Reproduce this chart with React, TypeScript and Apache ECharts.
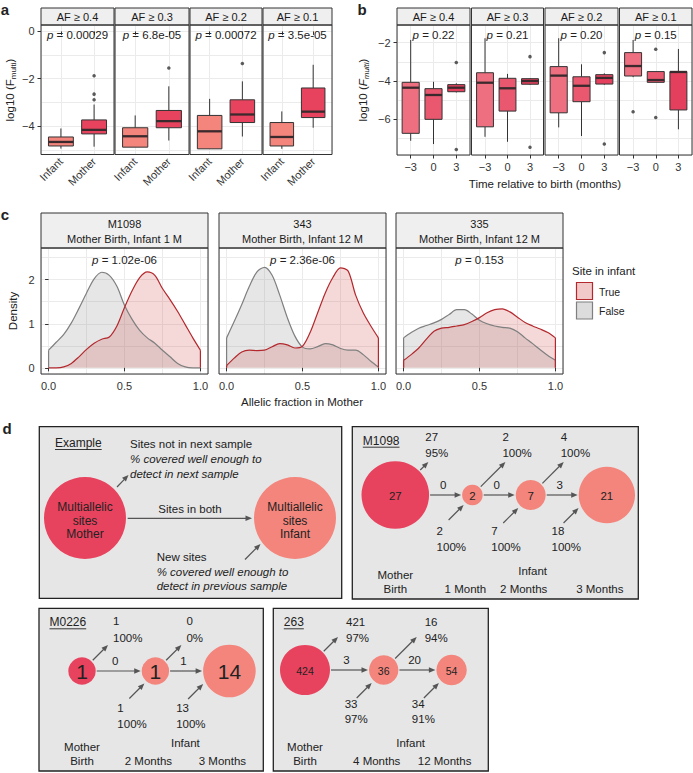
import React, { useEffect, useRef } from 'react';
import * as echarts from 'echarts';

const FONT = '"Liberation Sans", Arial, Helvetica, sans-serif';
const INK = '#222222';
const MOTHER = '#E8435E';
const INFANT = '#F3857C';
const GRIDLINE = '#ebebeb';

// ================= panel a =================
const afFacets = ['AF ≥ 0.4', 'AF ≥ 0.3', 'AF ≥ 0.2', 'AF ≥ 0.1'];
const aGroups = ['Infant', 'Mother'];
const aPValues = ['0.00029', '6.8e-05', '0.00072', '3.5e-05'];
// [min, Q1, median, Q3, max]
const aInfantBox = [
  [-4.95, -4.84, -4.67, -4.46, -4.1],
  [-4.89, -4.89, -4.43, -4.07, -3.55],
  [-4.96, -4.96, -4.22, -3.55, -2.85],
  [-4.96, -4.84, -4.46, -3.85, -3.38],
];
const aMotherBox = [
  [-4.87, -4.33, -4.16, -3.74, -3.09],
  [-4.61, -4.07, -3.79, -3.34, -2.32],
  [-4.44, -3.85, -3.51, -2.89, -2.11],
  [-4.07, -3.64, -3.39, -2.39, -1.41],
];
const aMotherOutliers = [[-1.87, -2.65, -2.89], [-1.55], [-1.36], []];
const aTicks = [-4, -2, 0];

// ================= panel b =================
const bTimes = ['−3', '0', '3'];
const bPValues = ['0.22', '0.21', '0.20', '0.15'];
const bBoxMinus3 = [
  [-7.12, -6.73, -4.35, -4.07, -1.86],
  [-6.91, -6.39, -4.09, -3.57, -1.77],
  [-6.42, -5.66, -3.72, -3.25, -1.77],
  [-3.8, -3.74, -3.22, -2.52, -1.86],
];
const bBox0 = [
  [-7.29, -6.0, -4.73, -4.4, -4.04],
  [-7.17, -5.57, -4.38, -3.86, -3.63],
  [-6.87, -5.08, -4.25, -3.78, -3.13],
  [-4.07, -4.07, -3.95, -3.51, -3.51],
];
const bBox3 = [
  [-4.6, -4.56, -4.35, -4.19, -4.12],
  [-4.2, -4.17, -4.0, -3.88, -3.85],
  [-4.2, -4.16, -3.84, -3.67, -3.6],
  [-6.52, -5.51, -3.53, -3.51, -2.33],
];
const bOutMinus3 = [[], [], [], [-5.6]];
const bOut0 = [[], [], [], [-2.34, -5.9]];
const bOut3 = [[-3.04, -7.57], [-2.73, -7.46], [-2.52, -7.29], []];
const bTicks = [-6, -4, -2];

// ================= panel c =================
const cFacetIds = ['M1098', '343', '335'];
const cFacetSub = ['Mother Birth, Infant 1 M', 'Mother Birth, Infant 12 M', 'Mother Birth, Infant 12 M'];
const cPValues = ['1.02e-06', '2.36e-06', '0.153'];
const cAF = [0, 0.05, 0.1, 0.15, 0.2, 0.25, 0.3, 0.35, 0.4, 0.45, 0.5, 0.55, 0.6, 0.65, 0.7, 0.75, 0.8, 0.85, 0.9, 0.95, 1.0];
const cTrue = [
  [0.0, 0.0, 0.02, 0.1, 0.25, 0.42, 0.56, 0.65, 0.7, 0.95, 1.37, 1.75, 2.05, 2.18, 2.1, 1.8, 1.55, 1.28, 0.98, 0.68, 0.4],
  [0.05, 0.22, 0.36, 0.4, 0.39, 0.4, 0.48, 0.55, 0.52, 0.45, 0.49, 0.8, 1.25, 1.7, 2.05, 2.27, 2.2, 1.65, 1.25, 0.95, 0.68],
  [0.17, 0.3, 0.45, 0.65, 0.83, 0.9, 0.92, 0.95, 0.98, 1.05, 1.14, 1.25, 1.32, 1.34, 1.27, 1.15, 1.03, 0.95, 0.88, 0.8, 0.68],
];
const cFalse = [
  [0.4, 0.58, 0.76, 1.02, 1.35, 1.7, 2.02, 2.17, 2.1, 1.85, 1.42, 1.1, 0.85, 0.68, 0.56, 0.4, 0.25, 0.1, 0.02, 0.0, 0.0],
  [0.68, 1.05, 1.44, 1.85, 2.18, 2.28, 2.1, 1.65, 1.14, 0.72, 0.47, 0.43, 0.48, 0.55, 0.52, 0.44, 0.4, 0.4, 0.3, 0.15, 0.02],
  [0.68, 0.8, 0.9, 0.96, 1.02, 1.1, 1.21, 1.32, 1.32, 1.22, 1.08, 1.0, 0.95, 0.92, 0.9, 0.82, 0.68, 0.55, 0.41, 0.28, 0.17],
];
const cXTicks = [0, 0.5, 1];
const cYTicks = [0, 1, 2];
const legendTitle = 'Site in infant';
const legendLabels = ['True', 'False'];

// ================= panel d =================
const m1098Counts = [27, 2, 7, 21];
const m1098Shared = [0, 0, 3];
const m1098Lost = [27, 2, 4];
const m1098LostPct = [95, 100, 100];
const m1098New = [2, 7, 18];
const m1098NewPct = [100, 100, 100];
const m1098Stages = ['Birth', '1 Month', '2 Months', '3 Months'];

const m0226Counts = [1, 1, 14];
const m0226Shared = [0, 1];
const m0226Lost = [1, 0];
const m0226LostPct = [100, 0];
const m0226New = [1, 13];
const m0226NewPct = [100, 100];
const m0226Stages = ['Birth', '2 Months', '3 Months'];

const s263Counts = [424, 36, 54];
const s263Shared = [3, 20];
const s263Lost = [421, 16];
const s263LostPct = [97, 94];
const s263New = [33, 34];
const s263NewPct = [97, 91];
const s263Stages = ['Birth', '4 Months', '12 Months'];

// ================= layout =================
const aPanels = [[41, 114], [115, 189], [190, 262], [263, 332]];
const bPanels = [[397, 470], [471.5, 543.5], [545, 618], [619.5, 692]];
const cPanels = [[41, 208], [219, 386], [396, 563]];
const AB_STRIP = 8, AB_TOP = 25, AB_BOTTOM = 154.5;
const C_STRIP = 213, C_TOP = 248, C_BOTTOM = 374;

function textWidth(t: string, size: number) {
  const ctx = document.createElement('canvas').getContext('2d') as CanvasRenderingContext2D;
  ctx.font = `${size}px ${FONT}`;
  return ctx.measureText(t).width;
}

function gText(x: number, y: number, text: string, o: any = {}) {
  return {
    type: 'text', x, y, z: o.z ?? 50, silent: true, rotation: o.rotation || 0,
    style: {
      text, fill: o.color || INK, fontSize: o.size || 11.5, fontFamily: FONT,
      fontStyle: o.italic ? 'italic' : 'normal', fontWeight: o.bold ? 'bold' : 'normal',
      align: o.align || 'center', verticalAlign: o.valign || 'middle', rich: o.rich,
    },
  };
}

function arrowEls(x1: number, y1: number, x2: number, y2: number, z = 60) {
  const color = '#555';
  const ang = Math.atan2(y2 - y1, x2 - x1);
  const L = 6.5, Wd = 2.7;
  const bx = x2 - L * Math.cos(ang), by = y2 - L * Math.sin(ang);
  const px = -Math.sin(ang) * Wd, py = Math.cos(ang) * Wd;
  return [
    { type: 'line', z, silent: true, shape: { x1, y1, x2: bx + 0.5 * Math.cos(ang), y2: by + 0.5 * Math.sin(ang) }, style: { stroke: color, lineWidth: 1.2 } },
    { type: 'polygon', z, silent: true, shape: { points: [[x2, y2], [bx + px, by + py], [bx - px, by - py]] }, style: { fill: color } },
  ];
}

const pRich = (size: number) => ({ i: { fontStyle: 'italic', fontSize: size, fontFamily: FONT, fill: INK } });

function boxRender(colors: string[]) {
  return (params: any, api: any) => {
    const x = api.value(0);
    const pLo = api.coord([x, api.value(1)]);
    const pQ1 = api.coord([x, api.value(2)]);
    const pMed = api.coord([x, api.value(3)]);
    const pQ3 = api.coord([x, api.value(4)]);
    const pHi = api.coord([x, api.value(5)]);
    const bw = api.size([1, 0])[0] * 0.75;
    const cx = pLo[0];
    return {
      type: 'group',
      children: [
        { type: 'line', shape: { x1: cx, y1: pHi[1], x2: cx, y2: pQ3[1] }, style: { stroke: '#333', lineWidth: 1 } },
        { type: 'line', shape: { x1: cx, y1: pQ1[1], x2: cx, y2: pLo[1] }, style: { stroke: '#333', lineWidth: 1 } },
        { type: 'rect', shape: { x: cx - bw / 2, y: pQ3[1], width: bw, height: Math.max(pQ1[1] - pQ3[1], 0.5) }, style: { fill: colors[params.dataIndex], stroke: '#333', lineWidth: 1 } },
        { type: 'line', shape: { x1: cx - bw / 2, y1: pMed[1], x2: cx + bw / 2, y2: pMed[1] }, style: { stroke: '#3a2a2d', lineWidth: 2.3 } },
      ],
    };
  };
}

function diagramLayout(d: any) {
  const cmin = Math.min(...d.counts), cmax = Math.max(...d.counts);
  const r = d.counts.map((c: number) => (cmax === cmin ? d.rRange[0] : d.rRange[0] + (d.rRange[1] - d.rRange[0]) * (c - cmin) / (cmax - cmin)));
  const cx = [d.x0];
  for (let i = 1; i < r.length; i++) cx.push(cx[i - 1] + r[i - 1] + d.gaps[i - 1] + r[i]);
  return { r, cx };
}

function buildOption() {
  const grid: any[] = [], xAxis: any[] = [], yAxis: any[] = [], series: any[] = [], els: any[] = [];
  const axisLabelBase = { color: '#333', fontSize: 11, fontFamily: FONT };
  const fmtMinus = (v: number) => (v < 0 ? '−' + String(Math.abs(v)) : String(v));
  const near = (arr: number[], v: number) => arr.some((t) => Math.abs(t - v) < 1e-6);

  function addPanel(x0: number, x1: number, top: number, bottom: number, xs: any, ys: any) {
    const gi = grid.length;
    grid.push({ left: x0, top, width: x1 - x0, height: bottom - top, containLabel: false, outerBoundsMode: 'none' });
    xAxis.push({
      type: 'value', gridIndex: gi, position: 'bottom', min: xs.min, max: xs.max,
      axisLine: { show: false }, splitLine: { show: false },
      axisTick: { show: true, customValues: xs.ticks, length: 3.5, lineStyle: { color: '#333', width: 1 } },
      axisLabel: { show: true, customValues: xs.ticks, formatter: xs.fmt, margin: xs.margin, rotate: xs.rotate || 0, ...axisLabelBase },
    });
    xAxis.push({
      type: 'value', gridIndex: gi, position: 'top', min: xs.min, max: xs.max, minInterval: xs.step, maxInterval: xs.step,
      axisLine: { show: false }, axisTick: { show: false }, axisLabel: { show: false },
      splitLine: { show: true, lineStyle: { color: GRIDLINE, width: 1 } },
    });
    yAxis.push({
      type: 'value', gridIndex: gi, position: 'left', min: ys.min, max: ys.max,
      axisLine: { show: false }, splitLine: { show: false },
      axisTick: { show: ys.show, customValues: ys.ticks, length: 3.5, lineStyle: { color: '#333', width: 1 } },
      axisLabel: { show: ys.show, customValues: ys.ticks, formatter: ys.fmt, margin: 6.5, ...axisLabelBase },
    });
    yAxis.push({
      type: 'value', gridIndex: gi, position: 'right', min: ys.min, max: ys.max, minInterval: ys.step, maxInterval: ys.step,
      axisLine: { show: false }, axisTick: { show: false }, axisLabel: { show: false },
      splitLine: { show: true, lineStyle: { color: GRIDLINE, width: 1 } },
    });
    els.push({ type: 'rect', z: 90, silent: true, shape: { x: x0, y: top, width: x1 - x0, height: bottom - top }, style: { fill: 'none', stroke: '#333', lineWidth: 1 } });
    return { xAxisIndex: 2 * gi, yAxisIndex: 2 * gi };
  }

  function strip(x0: number, x1: number, y0: number, y1: number, lines: string[]) {
    els.push({ type: 'rect', z: 40, silent: true, shape: { x: x0, y: y0, width: x1 - x0, height: y1 - y0 }, style: { fill: '#efefef', stroke: '#333', lineWidth: 1 } });
    const mid = (y0 + y1) / 2;
    const lh = 15;
    lines.forEach((t, k) => els.push(gText((x0 + x1) / 2, mid + (k - (lines.length - 1) / 2) * lh + 0.5, t, { size: 11, color: '#1a1a1a' })));
  }

  // ---------- a ----------
  aPanels.forEach(([x0, x1], g) => {
    const ax = addPanel(x0, x1, AB_TOP, AB_BOTTOM,
      { min: 0.4, max: 2.6, step: 1, ticks: [1, 2], margin: 5, rotate: 45, fmt: (v: number) => { const i = Math.round(v); return Math.abs(v - i) < 1e-6 && aGroups[i - 1] ? aGroups[i - 1] : ''; } },
      { min: -5.2, max: 0.27, step: 1, ticks: aTicks, show: g === 0, fmt: (v: number) => (near(aTicks, v) ? fmtMinus(v) : '') });
    series.push({
      type: 'custom', ...ax, silent: true, z: 3, renderItem: boxRender([INFANT, MOTHER]),
      encode: { x: 0, y: [1, 2, 3, 4, 5] },
      data: [[1, ...aInfantBox[g]], [2, ...aMotherBox[g]]],
    });
    series.push({ type: 'scatter', ...ax, silent: true, z: 4, symbolSize: 3.5, itemStyle: { color: '#333' }, data: aMotherOutliers[g].map((v) => [2, v]) });
    strip(x0, x1, AB_STRIP, AB_TOP, [afFacets[g]]);
    els.push(gText((x0 + x1) / 2, 35, '{i|p} = ' + aPValues[g], { rich: pRich(11.5) }));
  });

  // ---------- b ----------
  const bColors = ['#EE6F80', '#EA5870', '#E4405D'];
  bPanels.forEach(([x0, x1], g) => {
    const ax = addPanel(x0, x1, AB_TOP, AB_BOTTOM + 0.5,
      { min: 0.4, max: 3.6, step: 1, ticks: [1, 2, 3], margin: 6, fmt: (v: number) => { const i = Math.round(v); return Math.abs(v - i) < 1e-6 && bTimes[i - 1] ? bTimes[i - 1] : ''; } },
      { min: -7.86, max: -1.08, step: 1, ticks: bTicks, show: g === 0, fmt: (v: number) => (near(bTicks, v) ? fmtMinus(v) : '') });
    series.push({
      type: 'custom', ...ax, silent: true, z: 3, renderItem: boxRender(bColors),
      encode: { x: 0, y: [1, 2, 3, 4, 5] },
      data: [[1, ...bBoxMinus3[g]], [2, ...bBox0[g]], [3, ...bBox3[g]]],
    });
    const outs = [...bOutMinus3[g].map((v) => [1, v]), ...bOut0[g].map((v) => [2, v]), ...bOut3[g].map((v) => [3, v])];
    series.push({ type: 'scatter', ...ax, silent: true, z: 4, symbolSize: 3.5, itemStyle: { color: '#333' }, data: outs });
    strip(x0, x1, AB_STRIP, AB_TOP, [afFacets[g]]);
    els.push(gText((x0 + x1) / 2, 35, '{i|p} = ' + bPValues[g], { rich: pRich(11.5) }));
  });

  // ---------- c ----------
  const redLine = '#B3282D', grayLine = '#7f7f7f';
  const redFill = 'rgba(205,60,60,0.28)', grayFill = 'rgba(128,128,128,0.28)';
  cPanels.forEach(([x0, x1], g) => {
    const ax = addPanel(x0, x1, C_TOP, C_BOTTOM,
      { min: -0.05, max: 1.05, step: 0.25, ticks: cXTicks, margin: 6, fmt: (v: number) => (near(cXTicks, v) ? v.toFixed(1) : '') },
      { min: -0.14, max: 2.72, step: 0.5, ticks: cYTicks, show: g === 0, fmt: (v: number) => (near(cYTicks, v) ? String(v) : '') });
    const curves = [
      { vals: cFalse[g], line: grayLine, fill: grayFill },
      { vals: cTrue[g], line: redLine, fill: redFill },
    ];
    curves.forEach((cv) => {
      series.push({
        type: 'line', ...ax, silent: true, z: 2, smooth: 0.3, symbol: 'none',
        lineStyle: { color: cv.line, width: 1.2 }, areaStyle: { color: cv.fill },
        data: cAF.map((x, k) => [x, cv.vals[k]]),
      });
      const first = cv.vals[0], last = cv.vals[cv.vals.length - 1];
      if (first > 0.03) series.push({ type: 'line', ...ax, silent: true, z: 2, symbol: 'none', lineStyle: { color: cv.line, width: 1.2 }, data: [[cAF[0], 0], [cAF[0], first]] });
      if (last > 0.03) series.push({ type: 'line', ...ax, silent: true, z: 2, symbol: 'none', lineStyle: { color: cv.line, width: 1.2 }, data: [[cAF[cAF.length - 1], 0], [cAF[cAF.length - 1], last]] });
    });
    strip(x0, x1, C_STRIP, C_TOP, [cFacetIds[g], cFacetSub[g]]);
    els.push(gText((x0 + x1) / 2, 260, '{i|p} = ' + cPValues[g], { rich: pRich(11.5) }));
  });

  // legend c
  els.push(gText(572, 271, legendTitle, { align: 'left', size: 11.5 }));
  const keyFills = [redFill, grayFill], keyLines = [redLine, grayLine];
  legendLabels.forEach((t, k) => {
    const ky = 282 + k * 19.5;
    els.push({ type: 'rect', z: 40, silent: true, shape: { x: 576, y: ky, width: 17, height: 18 }, style: { fill: '#fff', stroke: 'none' } });
    els.push({ type: 'rect', z: 41, silent: true, shape: { x: 576.5, y: ky + 0.5, width: 16, height: 17 }, style: { fill: keyFills[k], stroke: keyLines[k], lineWidth: 1.2 } });
    els.push(gText(599, ky + 9.5, t, { align: 'left', size: 10.5 }));
  });

  // axis titles
  els.push(gText(10, 90, '{n|log10 (F}{s|multi}{n|)}', {
    rotation: Math.PI / 2,
    rich: { n: { fontSize: 11.5, fontFamily: FONT, fill: INK, lineHeight: 14, verticalAlign: 'middle' }, s: { fontSize: 8, fontFamily: FONT, fill: INK, lineHeight: 8, verticalAlign: 'bottom' } },
  }));
  els.push(gText(363, 90, '{n|log10 (}{i|F}{s|multi}{n|)}', {
    rotation: Math.PI / 2,
    rich: { n: { fontSize: 11.5, fontFamily: FONT, fill: INK, lineHeight: 14, verticalAlign: 'middle' }, i: { fontSize: 11.5, fontStyle: 'italic', fontFamily: FONT, fill: INK, lineHeight: 14, verticalAlign: 'middle' }, s: { fontSize: 8, fontStyle: 'italic', fontFamily: FONT, fill: INK, lineHeight: 8, verticalAlign: 'bottom' } },
  }));
  els.push(gText(545, 183.5, 'Time relative to birth (months)', { size: 11.5 }));
  els.push(gText(13, 311, 'Density', { rotation: Math.PI / 2, size: 11.5 }));
  els.push(gText(302, 402, 'Allelic fraction in Mother', { size: 11.5 }));

  // panel letters
  els.push(gText(5, 9, 'a', { bold: true, size: 15 }));
  els.push(gText(362, 9, 'b', { bold: true, size: 15 }));
  els.push(gText(5, 214, 'c', { bold: true, size: 15 }));
  els.push(gText(7, 428, 'd', { bold: true, size: 15 }));

  // ---------- d : Example ----------
  const boxStyle = { fill: '#e6e6e6', stroke: '#222', lineWidth: 1.3 };
  els.push({ type: 'rect', z: 1, silent: true, shape: { x: 39.3, y: 426.7, width: 302.4, height: 171.6 }, style: boxStyle });
  const exW = textWidth('Example', 12);
  els.push(gText(55, 443, 'Example', { align: 'left', size: 12 }));
  els.push({ type: 'line', z: 50, silent: true, shape: { x1: 55, y1: 449.5, x2: 55 + exW, y2: 449.5 }, style: { stroke: INK, lineWidth: 0.9 } });
  els.push(gText(130, 444, 'Sites not in next sample', { align: 'left' }));
  els.push(gText(130, 459, '% covered well enough to', { align: 'left', italic: true }));
  els.push(gText(130, 473.5, 'detect in next sample', { align: 'left', italic: true }));
  els.push({ type: 'circle', z: 5, silent: true, shape: { cx: 85, cy: 518, r: 41 }, style: { fill: MOTHER } });
  els.push({ type: 'circle', z: 5, silent: true, shape: { cx: 295, cy: 518, r: 41 }, style: { fill: INFANT } });
  ['Multiallelic', 'sites', 'Mother'].forEach((t, k) => els.push(gText(85, 507.3 + k * 13.4, t, { size: 12 })));
  ['Multiallelic', 'sites', 'Infant'].forEach((t, k) => els.push(gText(295, 507.3 + k * 13.4, t, { size: 12 })));
  els.push(...arrowEls(117, 487, 128.5, 475));
  els.push(...arrowEls(127.7, 518.3, 252, 518.3));
  els.push(gText(190, 509, 'Sites in both'));
  els.push(gText(156.7, 556.7, 'New sites', { align: 'left' }));
  els.push(gText(156.7, 571.7, '% covered well enough to', { align: 'left', italic: true }));
  els.push(gText(156.7, 585.7, 'detect in previous sample', { align: 'left', italic: true }));
  els.push(...arrowEls(245, 559.5, 260.5, 544));

  // ---------- d : sample diagrams ----------
  const diagrams = [
    { name: 'M1098', counts: m1098Counts, shared: m1098Shared, lost: m1098Lost, lostPct: m1098LostPct, newN: m1098New, newPct: m1098NewPct, stages: m1098Stages,
      box: [352.3, 426.7, 638.3, 599], cy: 495, x0: 395.3, gaps: [33, 33, 33], rRange: [10.3, 33.8], nodeFont: 11.5, outH: 33, outDx: -3, outY: [-58, -42], inY: [36, 51.7] },
    { name: 'M0226', counts: m0226Counts, shared: m0226Shared, lost: m0226Lost, lostPct: m0226LostPct, newN: m0226New, newPct: m0226NewPct, stages: m0226Stages,
      box: [39, 608.3, 263.3, 771], cy: 671, x0: 82, gaps: [46, 34], rRange: [13.7, 26.3], nodeFont: 21, outH: 26, outDx: 5, outY: [-50, -33.5], inY: [37.3, 53] },
    { name: '263', counts: s263Counts, shared: s263Shared, lost: s263Lost, lostPct: s263LostPct, newN: s263New, newPct: s263NewPct, stages: s263Stages,
      box: [273.3, 608.3, 488.3, 771], cy: 670, x0: 305, gaps: [39, 38], rRange: [14.7, 25], nodeFont: 10.5, outH: 33, outDx: 8, outY: [-48, -32], inY: [34.3, 49] },
  ];

  diagrams.forEach((d) => {
    const [bx0, by0, bx1, by1] = d.box;
    const { r, cx } = diagramLayout(d);
    els.push({ type: 'rect', z: 1, silent: true, shape: { x: bx0, y: by0, width: bx1 - bx0, height: by1 - by0 }, style: boxStyle });
    const tw = textWidth(d.name, 12);
    els.push(gText(bx0 + 10.5, by0 + 14, d.name, { align: 'left', size: 12 }));
    els.push({ type: 'line', z: 50, silent: true, shape: { x1: bx0 + 10.5, y1: by0 + 20.5, x2: bx0 + 10.5 + tw, y2: by0 + 20.5 }, style: { stroke: INK, lineWidth: 0.9 } });
    // stage labels
    els.push(gText(cx[0], by1 - 24.5, 'Mother'));
    els.push(gText(cx[0], by1 - 10, d.stages[0]));
    const infXs: number[] = [];
    for (let i = 1; i < d.stages.length; i++) {
      const lx = cx[i] - 7;
      infXs.push(lx);
      els.push(gText(lx, by1 - 10, d.stages[i]));
    }
    els.push(gText((infXs[0] + infXs[infXs.length - 1]) / 2, by1 - 28, 'Infant'));

    const n = d.counts.length;
    const txt = (x: number, y: number, t: string, align = 'center', size = 11.5) => ({
      type: 'text', x, y, style: { text: t, fill: INK, fontSize: size, fontFamily: FONT, align, verticalAlign: 'middle' },
    });
    series.push({
      type: 'custom', coordinateSystem: 'none', silent: true, z: 5,
      dimensions: ['stage', 'count'],
      data: d.counts.map((c: number, i: number) => [i, c]),
      renderItem: (params: any, api: any) => {
        const i = params.dataIndex;
        const count = api.value(1);
        const x = cx[i], y = d.cy, rr = r[i];
        const children: any[] = [];
        children.push({ type: 'circle', shape: { cx: x, cy: y, r: rr }, style: { fill: i === 0 ? MOTHER : INFANT } });
        children.push(txt(x, y + 0.5, String(count), 'center', d.nodeFont));
        if (i < n - 1) {
          const x1 = x + rr + 1, x2 = cx[i + 1] - r[i + 1] - 1;
          children.push(...arrowEls(x1, y, x2, y));
          children.push(txt(x1 + 0.42 * (x2 - x1), y - 10, String(d.shared[i])));
          const sx = x + (rr + 1.5) * 0.7071, sy = y - (rr + 1.5) * 0.7071;
          const ty = Math.min(y - d.outH, sy - 8);
          const tx = sx + (sy - ty);
          children.push(...arrowEls(sx, sy, tx, ty));
          children.push(txt(tx + d.outDx, y + d.outY[0], String(d.lost[i]), 'left'));
          children.push(txt(tx + d.outDx, y + d.outY[1], d.lostPct[i] + '%', 'left'));
        }
        if (i > 0) {
          const R = rr + 3;
          const dy = Math.min(0.75 * R, 13);
          const dx = -Math.sqrt(R * R - dy * dy);
          const tipx = x + dx, tipy = y + dy;
          const tailx = tipx - 15, taily = tipy + 15;
          children.push(...arrowEls(tailx, taily, tipx, tipy));
          children.push(txt(tailx - 12, y + d.inY[0], String(d.newN[i - 1]), 'left'));
          children.push(txt(tailx - 12, y + d.inY[1], d.newPct[i - 1] + '%', 'left'));
        }
        return { type: 'group', children };
      },
    });
  });

  return {
    animation: false,
    backgroundColor: '#ffffff',
    textStyle: { fontFamily: FONT },
    grid, xAxis, yAxis, series,
    graphic: { elements: els },
  };
}

export default function App() {
  const ref = useRef<HTMLDivElement>(null);
  useEffect(() => {
    document.body.style.margin = '0';
    if (!ref.current) return;
    const chart = echarts.init(ref.current, undefined, { renderer: 'svg' });
    chart.setOption(buildOption() as any);
    return () => chart.dispose();
  }, []);
  return <div ref={ref} style={{ width: 693, height: 773, position: 'absolute', left: 0, top: 0 }} />;
}
